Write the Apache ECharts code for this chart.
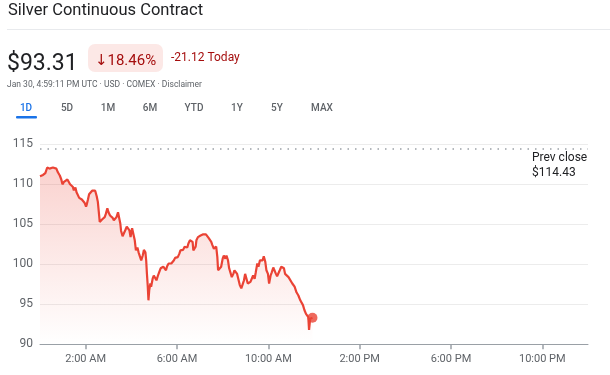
<!DOCTYPE html>
<html>
<head>
<meta charset="utf-8">
<script src="https://cdn.jsdelivr.net/npm/echarts@6/dist/echarts.min.js"></script>
<style>html,body{margin:0;padding:0;background:#fff;}#c{width:610px;height:375px;}</style>
</head>
<body>
<div id="c"></div>
<script>
// ---- data ----
const title = 'Silver Continuous Contract';
const lastPrice = '$93.31';
const changePct = '\u219318.46%';
const changeAbs = '-21.12 Today';
const subtitle = 'Jan 30, 4:59:11 PM UTC \u00b7 USD \u00b7 COMEX \u00b7 Disclaimer';
const tabs = ['1D', '5D', '1M', '6M', 'YTD', '1Y', '5Y', 'MAX'];
const prevClose = 114.43;
const prevCloseLabel = 'Prev close\n$114.43';
const tickHours = [2, 6, 10, 14, 18, 22];
const tickLabels = ['2:00 AM', '6:00 AM', '10:00 AM', '2:00 PM', '6:00 PM', '10:00 PM'];
// minutes since midnight
const minutes = [0,2,8,14,19,25,30,34,39,43,47,52,56,59,63,67,72,75,79,82,86,89,93,96,100,103,107,110,114,117,121,123,126,129,133,137,142,145,149,152,155,157,159,163,166,170,173,177,180,184,187,191,194,198,201,205,208,211,213,217,220,224,228,
231,235,238,242,245,249,252,256,259,263,266,270,273,277,279,281,283,285,287,290,292,296,299,303,306,310,313,317,320,324,327,331,334,338,341,345,348,352,355,359,362,366,369,373,376,380,383,387,390,394,397,401,403,406,409,411,415,418,422,425,429,432,436,439,443,446,450,453,457,460,463,466,468,
473,476,480,483,487,490,494,497,501,504,508,511,515,518,522,525,529,532,536,539,543,546,550,553,557,560,564,567,571,574,578,581,585,588,592,595,599,602,606,609,613,616,620,623,627,630,634,637,641,644,648,
653,658,663,669,674,679,684,688,691,695,699,702,705,707,710,713,716];
const prices = [111.0,111.0,111.17,111.4,112.1,111.96,111.75,112.1,112.17,111.96,111.5,111.1,110.6,110.0,110.3,110.2,110.6,110.4,110.0,110.1,109.7,109.25,109.6,109.0,108.75,108.3,108.4,108.1,107.9,107.7,107.2,107.5,108.1,108.75,109.0,109.2,109.0,109.2,108.5,107.8,106.3,105.3,105.1,105.6,105.5,105.9,106.3,107.0,106.5,106.1,105.9,105.8,105.5,105.3,105.9,106.5,106.3,105.1,104.2,103.5,103.3,104.25,104.7,
104.46,104.25,103.4,104.5,104.25,103.0,101.75,102.1,101.5,101.75,100.5,101.1,101.8,101.5,100.5,98.8,97.4,95.5,96.75,97.6,97.2,98.2,98.6,98.4,98.0,98.6,99.0,99.5,99.25,99.7,99.5,99.25,99.75,100.1,99.9,100.1,100.3,100.5,100.8,100.7,100.9,101.3,101.75,101.95,101.8,102.2,102.4,102.1,102.6,103.0,103.2,102.8,101.75,101.5,102.2,103.0,103.4,103.2,103.6,103.5,103.75,104.0,103.75,103.6,103.3,103.4,102.8,102.4,101.95,101.75,102.2,100.9,99.25,
99.25,99.7,100.7,101.1,100.7,101.1,100.5,99.5,99.25,98.4,98.8,99.25,99.0,98.8,98.6,97.4,97.0,97.2,98.0,98.8,98.6,97.6,97.4,97.8,98.0,98.6,98.2,99.0,100.1,99.7,100.5,100.7,100.5,101.0,100.3,99.25,98.8,97.6,98.6,99.0,99.6,99.25,98.8,98.5,98.6,99.25,99.7,99.75,99.5,98.8,98.6,
98.4,98.2,97.6,97.2,96.5,96.1,95.5,95.6,94.9,94.25,93.8,94.0,93.4,91.8,93.2,93.4,93.31];

// ---- chart ----
const FONT = 'Roboto, "DejaVu Sans", sans-serif';
const series = minutes.map((m, i) => [m / 60, prices[i]]);
const last = series[series.length - 1];
const tabX = [26, 67, 108, 150, 194, 237, 277, 322];

const graphics = [
  { type: 'text', style: { x: 8, y: 11, text: title, font: '16.5px ' + FONT, fill: '#202124', textVerticalAlign: 'middle' } },
  { type: 'line', shape: { x1: 7, y1: 29.5, x2: 610, y2: 29.5 }, style: { stroke: '#e8eaed', lineWidth: 1 } },
  { type: 'text', style: { x: 7, y: 64, text: lastPrice, font: '23px ' + FONT, fill: '#202124', textVerticalAlign: 'middle' } },
  { type: 'rect', shape: { x: 88, y: 44, width: 75, height: 28, r: 7 }, style: { fill: '#fce8e6' } },
  { type: 'text', style: { x: 125.5, y: 61, text: changePct, font: '15px ' + FONT, fill: '#a50e0e', textAlign: 'center', textVerticalAlign: 'middle' } },
  { type: 'text', style: { x: 171, y: 57.5, text: changeAbs, font: '12px ' + FONT, fill: '#a50e0e', textVerticalAlign: 'middle' } },
  { type: 'text', style: { x: 7, y: 85, text: subtitle, font: '8.5px ' + FONT, fill: '#5f6368', textVerticalAlign: 'middle' } },
  { type: 'rect', shape: { x: 16, y: 116, width: 21, height: 2.5, r: 1 }, style: { fill: '#1a73e8' } },
  { type: 'text', style: { x: 532, y: 165.5, text: prevCloseLabel, font: '12px ' + FONT, fill: '#202124', textVerticalAlign: 'middle', lineHeight: 14.7 } }
];
tabs.forEach((t, i) => {
  graphics.push({ type: 'text', style: { x: tabX[i], y: 108, text: t, font: '500 10px ' + FONT, fill: i === 0 ? '#1a73e8' : '#5f6368', textAlign: 'center', textVerticalAlign: 'middle' } });
});

const chart = echarts.init(document.getElementById('c'), null, { renderer: 'canvas' });
chart.setOption({
  animation: false,
  backgroundColor: '#fff',
  grid: { left: 40, right: 22, top: 144.3, bottom: 30.7, containLabel: false },
  xAxis: {
    type: 'value', min: 0, max: 24,
    axisLine: { show: true, lineStyle: { color: '#9aa0a6', width: 1 } },
    axisTick: { show: true, customValues: tickHours, length: 5, lineStyle: { color: '#9aa0a6', width: 1.5 } },
    axisLabel: {
      customValues: tickHours, margin: 9, color: '#5f6368', fontSize: 11, fontFamily: FONT,
      formatter: v => tickLabels[tickHours.indexOf(v)]
    },
    splitLine: { show: false }
  },
  yAxis: {
    type: 'value', min: 90, max: 115, interval: 5,
    axisLine: { show: false }, axisTick: { show: false },
    axisLabel: { margin: 7, color: '#5f6368', fontSize: 12, fontFamily: FONT },
    splitLine: { show: true, lineStyle: { color: '#ececec', width: 1 } }
  },
  graphic: graphics,
  series: [
    {
      type: 'line', data: series, showSymbol: false, symbol: 'none',
      lineStyle: { color: '#ea4335', width: 2.2 },
      areaStyle: {
        origin: 'start',
        color: new echarts.graphic.LinearGradient(0, 0, 0, 1, [
          { offset: 0, color: 'rgba(234,67,53,0.34)' },
          { offset: 1, color: 'rgba(234,67,53,0.0)' }
        ])
      },
      markLine: {
        silent: true, symbol: 'none', label: { show: false },
        lineStyle: { color: '#9aa0a6', type: [1.5, 6], width: 1.5 },
        data: [{ yAxis: prevClose }]
      }
    },
    {
      type: 'scatter', data: [last], symbol: 'circle', symbolSize: 10,
      itemStyle: { color: '#ea4335' }, z: 5
    }
  ]
});
</script>
</body>
</html>
